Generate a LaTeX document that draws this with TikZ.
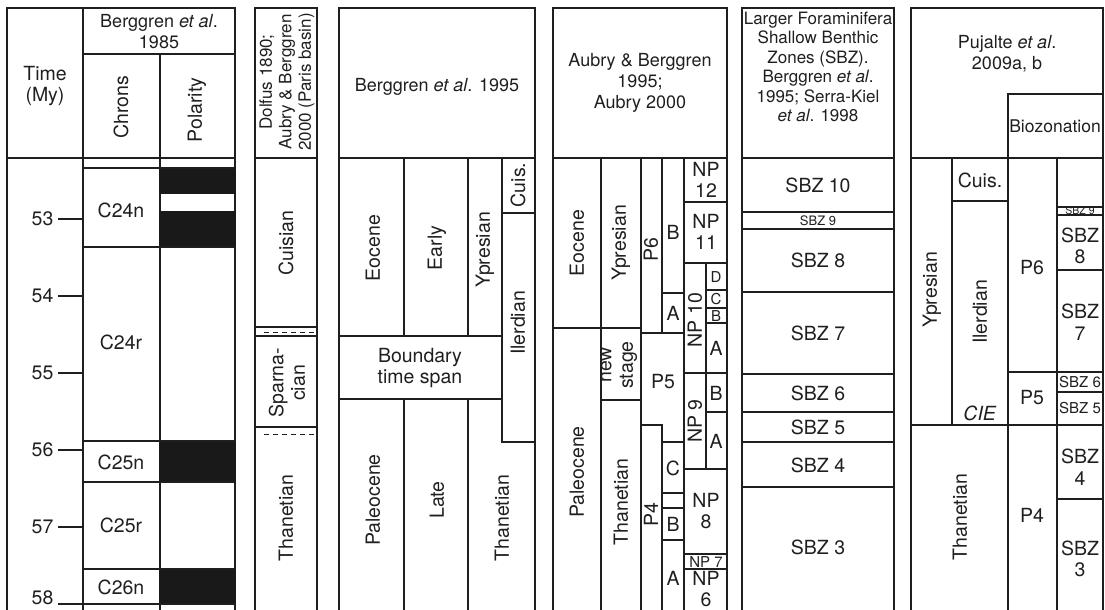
\documentclass[tikz,border=0pt]{standalone}
\usepackage{fontspec}
\setmainfont{TeX Gyre Heros}
\usetikzlibrary{positioning}

\begin{document}
\begin{tikzpicture}[x=1pt, y=-1pt, line width=1.3pt, color=black!88,
    txt/.style={font=\fontsize{19.5}{21.5}\selectfont, align=center, inner sep=0pt},
    vtxt/.style={txt, rotate=90},
    headtxt/.style={txt, font=\fontsize{18}{21}\selectfont},
    midtxt/.style={font=\fontsize{15}{16}\selectfont, inner sep=0pt},
    smalltxt/.style={font=\fontsize{13}{14}\selectfont, inner sep=0pt},
    tinytxt/.style={font=\fontsize{10.5}{11}\selectfont, inner sep=0pt},
    normal/.style={fill=black!90, draw=black!90},
    hdash/.style={dash pattern=on 5pt off 4pt, line width=1pt}]
    \useasboundingbox (0,0) rectangle (1105,610);

    % Time scale and chrons
    \draw (7,610) -- (7,8) -- (235,8) -- (235,610);
    \draw (83,8) -- (83,610);
    \draw (160,54) -- (160,610);
    \draw (83,54) -- (235,54);
    \draw (7,158) -- (235,158);
    \node[txt] (time) at (45,86) {Time\\(My)};
    \node[headtxt] (berg85) at (159,32) {Berggren \textit{et al}.\\1985};
    \node[vtxt] (chrons) at (121,107) {Chrons};
    \node[vtxt] (polarity) at (197,110) {Polarity};
    \fill[normal] (160,168) rectangle (235,193);
    \fill[normal] (160,212) rectangle (235,247);
    \fill[normal] (160,441) rectangle (235,482);
    \fill[normal] (160,569) rectangle (235,604);
    \foreach \y in {168,247,441,482,569,604}
        \draw (83,\y) -- (235,\y);
    \foreach \t/\y in {53/219,54/296,55/373,56/450,57/527} {
        \draw (58,\y) -- (83,\y);
        \node[txt, anchor=east] (tick\t) at (54,\y) {\t};
    }
    \draw (58,604) -- (83,604);
    \node[txt, anchor=east] (tick58) at (54,598) {58};
    \node[txt] (c24n) at (121,210) {C24n};
    \node[txt] (c24r) at (121,342) {C24r};
    \node[txt] (c25n) at (121,462) {C25n};
    \node[txt] (c25r) at (121,525) {C25r};
    \node[txt] (c26n) at (121,587) {C26n};

    % Paris basin stages
    \draw (255,610) -- (255,8) -- (317,8) -- (317,610);
    \draw (255,158) -- (317,158);
    \node[vtxt, font=\fontsize{17}{19.5}\selectfont] (dolfus) at (287,82)
        {Dolfus 1890;\\Aubry \& Berggren\\2000 (Paris basin)};
    \draw (255,327) -- (317,327);
    \draw[hdash] (264,332) -- (317,332);
    \draw (255,336) -- (317,336);
    \draw (255,427) -- (317,427);
    \draw[hdash] (264,434) -- (317,434);
    \node[vtxt] (cuisA) at (286,243) {Cuisian};
    \node[vtxt] (sparn) at (287,383) {Sparna-\\cian};
    \node[vtxt] (thanA) at (286,518) {Thanetian};

    % Berggren et al. 1995
    \draw (339,610) -- (339,8) -- (535,8) -- (535,610);
    \draw (339,158) -- (535,158);
    \node[headtxt] (berg95) at (437,87) {Berggren \textit{et al}. 1995};
    \draw (404,158) -- (404,336);
    \draw (404,399) -- (404,610);
    \draw (468,158) -- (468,336);
    \draw (468,399) -- (468,610);
    \draw (502,158) -- (502,442) -- (535,442);
    \draw (502,213) -- (535,213);
    \draw (339,336) -- (502,336);
    \draw (339,399) -- (502,399);
    \node[vtxt] (eoceneB) at (373,248) {Eocene};
    \node[vtxt] (earlyB) at (437,248) {Early};
    \node[vtxt] (ypresB) at (485,250) {Ypresian};
    \node[vtxt] (cuisB) at (518,185) {Cuis.};
    \node[vtxt] (ilerdB) at (518,323) {Ilerdian};
    \node[txt] (bspan) at (420,368) {Boundary\\time span};
    \node[vtxt] (paleoB) at (373,500) {Paleocene};
    \node[vtxt] (lateB) at (437,500) {Late};
    \node[vtxt] (thanB) at (502,518) {Thanetian};

    % Aubry & Berggren 1995; Aubry 2000
    \draw (553,610) -- (553,8) -- (727,8) -- (727,610);
    \draw (553,158) -- (727,158);
    \node[headtxt] (aubry) at (640,83) {Aubry \& Berggren\\1995;\\Aubry 2000};
    \draw (601,158) -- (601,610);
    \draw (641,158) -- (641,610);
    \draw (662,158) -- (662,333);
    \draw (684,158) -- (684,610);
    \draw (706,263) -- (706,469);
    \draw (553,328) -- (641,328);
    \draw (601,400) -- (641,400);
    \draw (641,333) -- (684,333);
    \draw (662,293) -- (684,293);
    \draw (641,425) -- (662,425) -- (662,442) -- (684,442);
    \draw (662,425) -- (662,610);
    \foreach \y in {493,508,540}
        \draw (662,\y) -- (684,\y);
    \foreach \y in {202,263,373,469,554,569}
        \draw (684,\y) -- (727,\y);
    \foreach \y in {290,308,323,412}
        \draw (706,\y) -- (727,\y);
    \node[vtxt] (eoceneC) at (577,243) {Eocene};
    \node[vtxt] (ypresC) at (621,243) {Ypresian};
    \node[vtxt] (newst) at (619,365) {new\\stage};
    \node[vtxt] (paleoC) at (577,472) {Paleocene};
    \node[vtxt] (thanC) at (621,502) {Thanetian};
    \node[vtxt] (p6C) at (651,250) {P6};
    \node[txt] (p6b) at (673,232) {B};
    \node[txt] (p6a) at (673,313) {A};
    \node[txt] (p5C) at (663,382) {P5};
    \node[vtxt] (p4C) at (651,515) {P4};
    \node[txt] (p4c) at (673,468) {C};
    \node[txt] (p4b) at (673,524) {B};
    \node[txt] (p4a) at (673,578) {A};
    \node[txt] (np12) at (706,180) {NP\\12};
    \node[txt] (np11) at (706,232) {NP\\11};
    \node[vtxt] (np10) at (695,320) {NP 10};
    \node[midtxt] (np10d) at (716,277) {D};
    \node[midtxt] (np10c) at (716,299) {C};
    \node[midtxt] (np10b) at (716,316) {B};
    \node[txt] (np10a) at (716,348) {A};
    \node[vtxt] (np9) at (695,421) {NP 9};
    \node[txt] (np9b) at (716,393) {B};
    \node[txt] (np9a) at (716,441) {A};
    \node[txt] (np8) at (706,511) {NP\\8};
    \node[midtxt] (np7) at (706,562) {NP 7};
    \node[txt] (np6) at (706,589) {NP\\6};

    % Larger foraminifera SBZ
    \draw (742,610) -- (742,8) -- (894,8) -- (894,610);
    \draw (742,158) -- (894,158);
    \node[txt, font=\fontsize{17}{19.4}\selectfont] (sbzhead) at (818,67)
        {Larger Foraminifera\\Shallow Benthic\\Zones (SBZ).\\Berggren \textit{et al}.\\1995; Serra-Kiel\\\textit{et al}. 1998};
    \foreach \y in {212,229,292,374,412,442,487}
        \draw (742,\y) -- (894,\y);
    \node[txt] (sbz10) at (818,185) {SBZ 10};
    \node[smalltxt] (sbz9) at (818,221) {SBZ 9};
    \node[txt] (sbz8) at (818,260) {SBZ 8};
    \node[txt] (sbz7) at (818,333) {SBZ 7};
    \node[txt] (sbz6) at (818,393) {SBZ 6};
    \node[txt] (sbz5) at (818,427) {SBZ 5};
    \node[txt] (sbz4) at (818,465) {SBZ 4};
    \node[txt] (sbz3) at (818,547) {SBZ 3};

    % Pujalte et al. 2009a, b
    \draw (911,610) -- (911,8) -- (1103,8) -- (1103,610);
    \draw (1008,158) -- (1008,94) -- (1103,94);
    \draw (911,158) -- (1103,158);
    \node[headtxt] (pujalte) at (1007,54) {Pujalte \textit{et al}.\\2009a, b};
    \node[txt, font=\fontsize{17.5}{20}\selectfont] (bioz) at (1055,126) {Biozonation};
    \draw (952,158) -- (952,425);
    \draw (1008,158) -- (1008,610);
    \draw (1057,158) -- (1057,610);
    \draw (952,201) -- (1008,201);
    \draw (911,425) -- (1103,425);
    \draw (1008,372) -- (1103,372);
    \foreach \y in {207,215,270,392,499}
        \draw (1057,\y) -- (1103,\y);
    \node[vtxt] (ypresD) at (932,290) {Ypresian};
    \node[txt] (cuisD) at (980,180) {Cuis.};
    \node[vtxt] (ilerdD) at (980,312) {Ilerdian};
    \node[txt] (cie) at (980,413) {\textit{CIE}};
    \node[vtxt] (thanD) at (960,517) {Thanetian};
    \node[txt] (p6D) at (1032,268) {P6};
    \node[txt] (p5D) at (1032,398) {P5};
    \node[txt] (p4D) at (1032,515) {P4};
    \node[tinytxt] (sbz9D) at (1080,211) {SBZ 9};
    \node[txt] (sbz8D) at (1080,246) {SBZ\\8};
    \node[txt] (sbz7D) at (1080,322) {SBZ\\7};
    \node[midtxt] (sbz6D) at (1080,382) {SBZ 6};
    \node[midtxt] (sbz5D) at (1080,408) {SBZ 5};
    \node[txt] (sbz4D) at (1080,467) {SBZ\\4};
    \node[txt] (sbz3D) at (1080,559) {SBZ\\3};
\end{tikzpicture}
\end{document}
